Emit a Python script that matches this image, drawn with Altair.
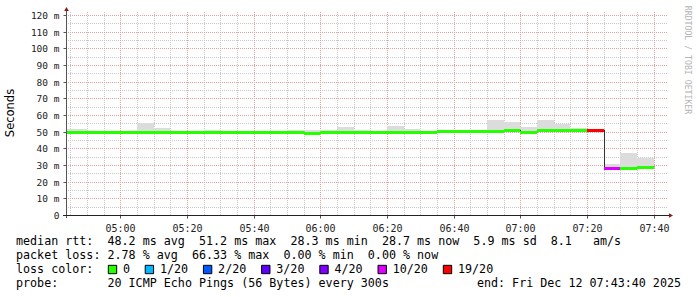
import altair as alt
import pandas as pd

# ---------------- data ----------------
bin_starts = ["04:40", "04:45", "04:50", "04:55", "05:00", "05:05", "05:10", "05:15",
              "05:20", "05:25", "05:30", "05:35", "05:40", "05:45", "05:50", "05:55",
              "06:00", "06:05", "06:10", "06:15", "06:20", "06:25", "06:30", "06:35",
              "06:40", "06:45", "06:50", "06:55", "07:00", "07:05", "07:10", "07:15",
              "07:20", "07:25", "07:30", "07:35"]
median_ms = [49.6, 49.6, 49.6, 49.6, 49.6, 49.7, 49.7, 49.9,
             50.0, 49.8, 49.7, 49.8, 49.7, 49.8, 49.8, 49.2,
             49.8, 49.7, 49.9, 49.7, 49.7, 49.6, 49.7, 50.4,
             50.5, 50.5, 50.6, 50.7, 50.0, 51.0, 51.1, 51.1,
             51.1, 28.3, 28.5, 28.7]
smoke_max_ms = [51.4, 51.4, 50.3, 50.4, 50.6, 55.0, 52.5, 50.6,
                50.4, 51.0, 50.4, 50.3, 50.3, 50.5, 50.9, 50.9,
                50.8, 53.0, 51.0, 50.6, 53.4, 51.6, 50.4, 50.8,
                51.0, 51.1, 57.0, 55.6, 52.6, 57.0, 54.6, 52.0,
                51.8, 30.4, 37.0, 34.4]
smoke_min_ms = [48.9, 48.9, 48.9, 48.9, 48.9, 49.0, 49.0, 49.1,
                49.2, 49.0, 49.0, 49.0, 49.0, 49.0, 49.0, 48.5,
                49.0, 49.0, 49.1, 49.0, 49.0, 48.9, 49.0, 49.6,
                49.7, 49.7, 49.8, 49.9, 49.2, 50.2, 50.3, 50.3,
                50.3, 27.6, 27.8, 28.0]
loss_per_bin = ["0"] * 32 + ["19/20", "10/20", "0", "0"]

loss_levels = ["0", "1/20", "2/20", "3/20", "4/20", "10/20", "19/20"]
loss_colors = ["#26ff00", "#00b8ff", "#0059ff", "#5e00ff", "#7e00ff", "#dd00ff", "#ff0000"]

y_major = [0, 10, 20, 30, 40, 50, 60, 70, 80, 90, 100, 110, 120]
y_minor = [5, 15, 25, 35, 45, 55, 65, 75, 85, 95, 105, 115]
x_major = ["05:00", "05:20", "05:40", "06:00", "06:20", "06:40", "07:00", "07:20", "07:40"]
x_minor = ["04:45", "04:50", "04:55", "05:05", "05:10", "05:15", "05:25", "05:30", "05:35",
           "05:45", "05:50", "05:55", "06:05", "06:10", "06:15", "06:25", "06:30", "06:35",
           "06:45", "06:50", "06:55", "07:05", "07:10", "07:15", "07:25", "07:30", "07:35"]

line1 = "median rtt:  48.2 ms avg  51.2 ms max  28.3 ms min  28.7 ms now  5.9 ms sd  8.1   am/s"
line2 = "packet loss: 2.78 % avg  66.33 % max  0.00 % min  0.00 % now"
line3 = "loss color:"
line4 = "probe:       20 ICMP Echo Pings (56 Bytes) every 300s"
end_text = "end: Fri Dec 12 07:43:40 2025"
y_title = "Seconds"
watermark = "RRDTOOL / TOBI OETIKER"

# ---------------- helpers ----------------
def to_min(s):
    h, m = s.split(":")
    return int(h) * 60 + int(m)

START = 4 * 60 + 43 + 40 / 60.0
END = START + 180
STEP = 5

bins = pd.DataFrame({
    "start": [to_min(s) for s in bin_starts],
    "median": median_ms,
    "smax": smoke_max_ms,
    "smin": smoke_min_ms,
    "loss": loss_per_bin,
})
bins["end"] = bins["start"] + STEP

step_df = pd.concat([
    bins[["start", "median"]].rename(columns={"start": "t"}),
    pd.DataFrame({"t": [bins["end"].iloc[-1]], "median": [bins["median"].iloc[-1]]}),
], ignore_index=True)

W, H = 600, 200
PL, PT = 66, 15
MONO = "DejaVu Sans Mono"
NB = "\u00a0"

xs = alt.Scale(domain=[START, END], nice=False, zero=False, round=True)
ys = alt.Scale(domain=[0, 120], nice=False, zero=True, round=True)

XAX = alt.Axis(
    values=[to_min(s) for s in x_major], grid=False, domain=False, ticks=True,
    tickSize=3, tickColor="#555555", labelPadding=5, title=None,
    labelFont=MONO, labelFontSize=10, labelColor="#222222",
    labelExpr="format(floor(datum.value/60),'02d') + ':' + format(datum.value % 60,'02d')")
YAX = alt.Axis(
    values=y_major, grid=False, domain=False, ticks=True, tickSize=3,
    tickColor="#555555", labelPadding=4, title=None, labelFont=MONO,
    labelFontSize=9.5, labelColor="#222222",
    labelExpr="datum.value == 0 ? '0' : datum.value + ' m'")

def X(f):
    return alt.X(f, scale=xs, axis=XAX)

def Y(f):
    return alt.Y(f, scale=ys, axis=YAX)

MINOR_C = "#c8c8c8"
MAJOR_C = "#e4a0a0"

grid_minor_x = alt.Chart(pd.DataFrame({"m": [to_min(s) for s in x_minor]})).mark_rule(
    color=MINOR_C, strokeDash=[1, 1], strokeWidth=1, xOffset=0.5
).encode(x=X("m:Q"), y=alt.value(-3), y2=alt.value(H))

grid_major_x = alt.Chart(pd.DataFrame({"m": [to_min(s) for s in x_major]})).mark_rule(
    color=MAJOR_C, strokeDash=[1, 1], strokeWidth=1, xOffset=0.5
).encode(x=X("m:Q"), y=alt.value(-3), y2=alt.value(H))

grid_minor_y = alt.Chart(pd.DataFrame({"v": y_minor})).mark_rule(
    color=MINOR_C, strokeDash=[1, 1], strokeWidth=1, yOffset=0.5
).encode(y=Y("v:Q"), x=alt.value(0), x2=alt.value(W + 2))

grid_major_y = alt.Chart(pd.DataFrame({"v": y_major[1:]})).mark_rule(
    color=MAJOR_C, strokeDash=[1, 1], strokeWidth=1, yOffset=0.5
).encode(y=Y("v:Q"), x=alt.value(0), x2=alt.value(W + 2))

smoke = alt.Chart(bins).mark_rect(color="#dcdcdc", clip=True).encode(
    x=X("start:Q"), x2="end:Q", y=Y("smin:Q"), y2="smax:Q",
)

step_line = alt.Chart(step_df).mark_line(
    interpolate="step-after", color="#333333", strokeWidth=1, clip=True, xOffset=0.5
).encode(x=X("t:Q"), y=Y("median:Q"))

median_rules = alt.Chart(bins).mark_rule(strokeWidth=3, clip=True, yOffset=0.5).encode(
    x=X("start:Q"), x2="end:Q",
    y=Y("median:Q"),
    color=alt.Color("loss:N", scale=alt.Scale(domain=loss_levels, range=loss_colors), legend=None),
)

one = pd.DataFrame({"k": [0]})
yaxis_line = alt.Chart(one).mark_rule(color="#555555", strokeWidth=1).encode(
    x=alt.value(0.5), y=alt.value(H + 3), y2=alt.value(-5))
xaxis_line = alt.Chart(one).mark_rule(color="#222222", strokeWidth=1).encode(
    x=alt.value(-3), x2=alt.value(W + 4), y=alt.value(H + 0.5))
arrow_up = alt.Chart(one).mark_point(shape="triangle-up", filled=True, color="#8b1a1a", size=22, opacity=1).encode(
    x=alt.value(0.5), y=alt.value(-6))
arrow_right = alt.Chart(one).mark_point(shape="triangle-right", filled=True, color="#8b1a1a", size=22, opacity=1).encode(
    x=alt.value(W + 5), y=alt.value(H + 0.5))

def text_layer(txt, x, y, **kw):
    return alt.Chart(pd.DataFrame({"t": [txt.replace(" ", NB)]})).mark_text(**kw).encode(
        text="t:N", x=alt.value(x), y=alt.value(y))

legend_kw = dict(font=MONO, fontSize=11.7, color="#000000", align="left", baseline="alphabetic")
t1 = text_layer(line1, 16 - PL, 245 - PT, **legend_kw)
t2 = text_layer(line2, 16 - PL, 259 - PT, **legend_kw)
t3 = text_layer(line3, 16 - PL, 273 - PT, **legend_kw)
t4 = text_layer(line4, 16 - PL, 287 - PT, **legend_kw)
t_end = text_layer(end_text, 681 - PL, 287 - PT, font=MONO, fontSize=11.7, color="#000000",
                   align="right", baseline="alphabetic")
t_title = text_layer(y_title, 11 - PL, 113 - PT, font="DejaVu Sans", fontSize=11.5, color="#000000",
                     align="center", baseline="middle", angle=270)
t_wm = text_layer(watermark, 687 - PL, 60 - PT, font=MONO, fontSize=8.2, color="#b4b4b4",
                  align="center", baseline="middle", angle=90)

# loss colour legend boxes
CH = 7.1
centers = []
c = 112.5
for lab in loss_levels:
    centers.append(c)
    c = c + len(lab) * CH + 29.8
leg = pd.DataFrame({"lab": loss_levels, "col": loss_colors,
                    "sx": [cc - PL for cc in centers], "tx": [cc - PL + 10.5 for cc in centers]})
boxes = alt.Chart(leg).mark_square(size=70, stroke="#000000", strokeWidth=1, opacity=1).encode(
    x=alt.X("sx:Q", scale=None), y=alt.value(269.5 - PT),
    fill=alt.Color("col:N", scale=None))
box_txt = alt.Chart(leg).mark_text(**legend_kw).encode(
    x=alt.X("tx:Q", scale=None), y=alt.value(273 - PT), text="lab:N")

chart = alt.layer(
    grid_minor_x, grid_minor_y, grid_major_x, grid_major_y, smoke,
    step_line, median_rules,
    yaxis_line, xaxis_line, arrow_up, arrow_right,
    t1, t2, t3, t4, t_end, t_title, t_wm, boxes, box_txt,
).properties(
    width=W, height=H,
    padding={"left": PL, "top": PT, "right": 697 - PL - W, "bottom": 297 - PT - H},
    autosize=alt.AutoSizeParams(type="none"),
    background="#ffffff",
).configure_view(stroke=None)

chart.save("out.html", embed_options={"renderer": "svg", "actions": False})
